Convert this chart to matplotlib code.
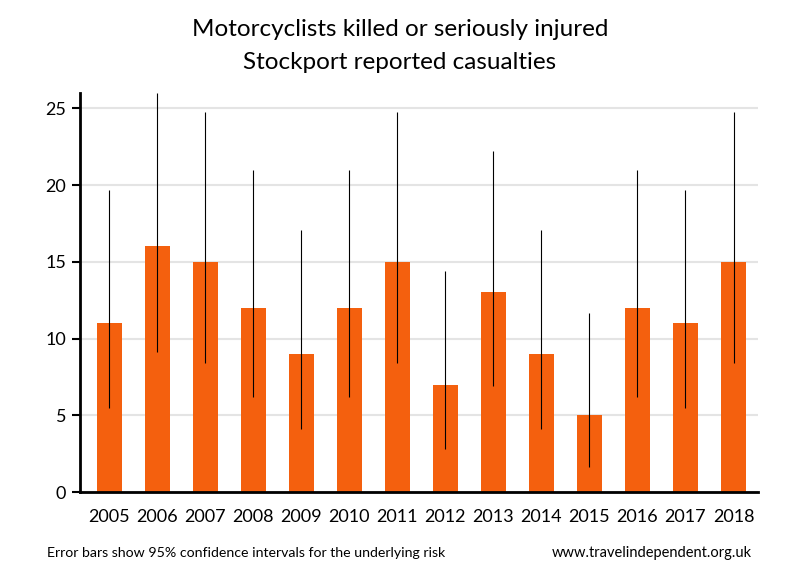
import matplotlib
matplotlib.use("Agg")
import matplotlib.pyplot as plt

years = ["2005", "2006", "2007", "2008", "2009", "2010", "2011",
         "2012", "2013", "2014", "2015", "2016", "2017", "2018"]
casualties = [11, 16, 15, 12, 9, 12, 15, 7, 13, 9, 5, 12, 11, 15]
ci_low = [5.49, 9.15, 8.40, 6.20, 4.12, 6.20, 8.40, 2.81, 6.92, 4.12, 1.62, 6.20, 5.49, 8.40]
ci_high = [19.68, 25.98, 24.74, 20.96, 17.08, 20.96, 24.74, 14.42, 22.23, 17.08, 11.67, 20.96, 19.68, 24.74]

plt.rcParams['font.family'] = ['Lato', 'DejaVu Sans']

fig = plt.figure(figsize=(8, 5.8), dpi=100)
ax = fig.add_axes([0.1, 0.1517, 0.8475, 0.688])

x = range(len(years))
ax.bar(x, casualties, width=0.52, color='#f4600e', zorder=2)
ax.vlines(x, ci_low, ci_high, color='black', linewidth=0.8, zorder=3)

ax.set_xlim(-0.61, 13.51)
ax.set_ylim(0, 26)
ax.set_yticks([0, 5, 10, 15, 20, 25])
ax.set_xticks(list(x))
ax.set_xticklabels(years)
ax.tick_params(axis='x', length=0, labelsize=13, pad=12)
ax.tick_params(axis='y', length=6, width=1.5, labelsize=13, pad=4, direction='out')
ax.grid(axis='y', color='#e4e4e4', linewidth=1.5, zorder=0)
ax.set_axisbelow(True)

for s in ['top', 'right']:
    ax.spines[s].set_visible(False)
ax.spines['left'].set_linewidth(2)
ax.spines['bottom'].set_linewidth(2)

fig.text(0.5, 0.950, "Motorcyclists killed or seriously injured", ha='center', va='center', fontsize=17.5)
fig.text(0.5, 0.893, "Stockport reported casualties", ha='center', va='center', fontsize=17.5)
fig.text(0.059, 0.047, "Error bars show 95% confidence intervals for the underlying risk", ha='left', va='center', fontsize=10.2)
fig.text(0.94, 0.047, "www.travelindependent.org.uk", ha='right', va='center', fontsize=10.5)

fig.savefig("out.png", dpi=100)
